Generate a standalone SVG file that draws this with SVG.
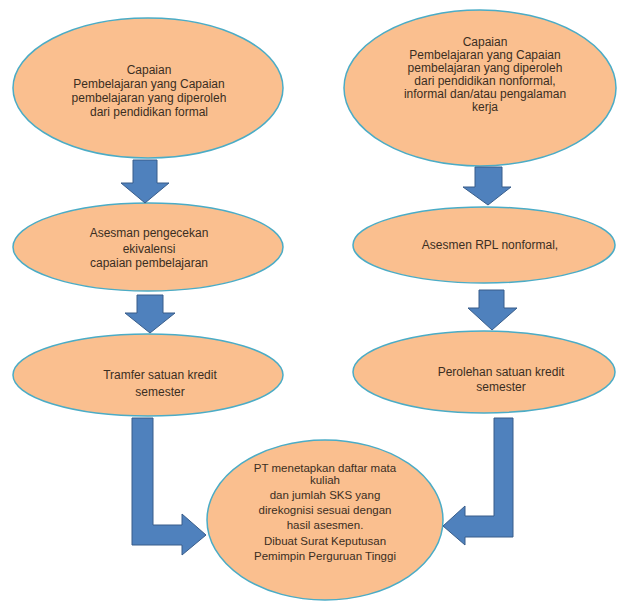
<svg xmlns="http://www.w3.org/2000/svg" width="618" height="603" viewBox="0 0 618 603">
<style>
.n{fill:#FABF8F;stroke:#4BACC6;stroke-width:1.5}
.a{fill:#4F81BD;stroke:#385D8A;stroke-width:1}
text{font-family:"Liberation Sans",Arial,sans-serif;font-size:12px;fill:#3A2E22;text-anchor:middle}
text.s{font-size:11.5px}
</style>
<rect width="618" height="603" fill="#ffffff"/>
<g id="node-cp-formal">
<ellipse class="n" cx="148" cy="88" rx="135" ry="70"/>
<text x="149" y="74">Capaian</text>
<text x="149" y="88">Pembelajaran yang Capaian</text>
<text x="149" y="102">pembelajaran yang diperoleh</text>
<text x="149" y="116">dari pendidikan formal</text>
</g>
<g id="node-asesmen-ekivalensi">
<ellipse class="n" cx="148" cy="247" rx="135" ry="44"/>
<text x="149" y="237">Asesman pengecekan</text>
<text x="149" y="253">ekivalensi</text>
<text x="149" y="267">capaian pembelajaran</text>
</g>
<g id="node-transfer-sks">
<ellipse class="n" cx="148" cy="375" rx="135" ry="41"/>
<text x="160" y="379">Tramfer satuan kredit</text>
<text x="160" y="396">semester</text>
</g>
<g id="node-cp-nonformal">
<ellipse class="n" cx="480" cy="88" rx="136" ry="78"/>
<text x="485" y="46">Capaian</text>
<text x="485" y="59">Pembelajaran yang Capaian</text>
<text x="485" y="72">pembelajaran yang diperoleh</text>
<text x="485" y="85">dari pendidikan nonformal,</text>
<text x="485" y="98">informal dan/atau pengalaman</text>
<text x="485" y="111">kerja</text>
</g>
<g id="node-asesmen-rpl">
<ellipse class="n" cx="484" cy="245" rx="131" ry="38"/>
<text x="490" y="249">Asesmen RPL nonformal,</text>
</g>
<g id="node-perolehan-sks">
<ellipse class="n" cx="484" cy="372" rx="131" ry="41"/>
<text x="501" y="376">Perolehan satuan kredit</text>
<text x="501" y="391">semester</text>
</g>
<g id="node-pt-menetapkan">
<ellipse class="n" cx="325" cy="520" rx="118" ry="80"/>
<text class="s" x="325" y="472">PT menetapkan daftar mata</text>
<text class="s" x="325" y="484">kuliah</text>
<text class="s" x="325" y="499">dan jumlah SKS yang</text>
<text class="s" x="325" y="514">direkognisi sesuai dengan</text>
<text class="s" x="325" y="529">hasil asesmen.</text>
<text class="s" x="325" y="545">Dibuat Surat Keputusan</text>
<text class="s" x="325" y="560">Pemimpin Perguruan Tinggi</text>
</g>
<g id="connectors">
<polygon class="a" points="133,160 157,160 157,183 169,183 145,203 121,183 133,183"/>
<polygon class="a" points="137,295 163,295 163,313 175,313 150,333 125,313 137,313"/>
<polygon class="a" points="475,167 502,167 502,187 511,187 488,205 463,187 475,187"/>
<polygon class="a" points="479,290 504,290 504,308 517,308 492,330 468,308 479,308"/>
<polygon class="a" points="132,418 153,418 153,525 182,525 182,514 206,535 182,555 182,545 132,545"/>
<polygon class="a" points="494,418 513,418 513,537 465,537 465,545 443,526 465,506 465,516 494,516"/>
</g>
</svg>
